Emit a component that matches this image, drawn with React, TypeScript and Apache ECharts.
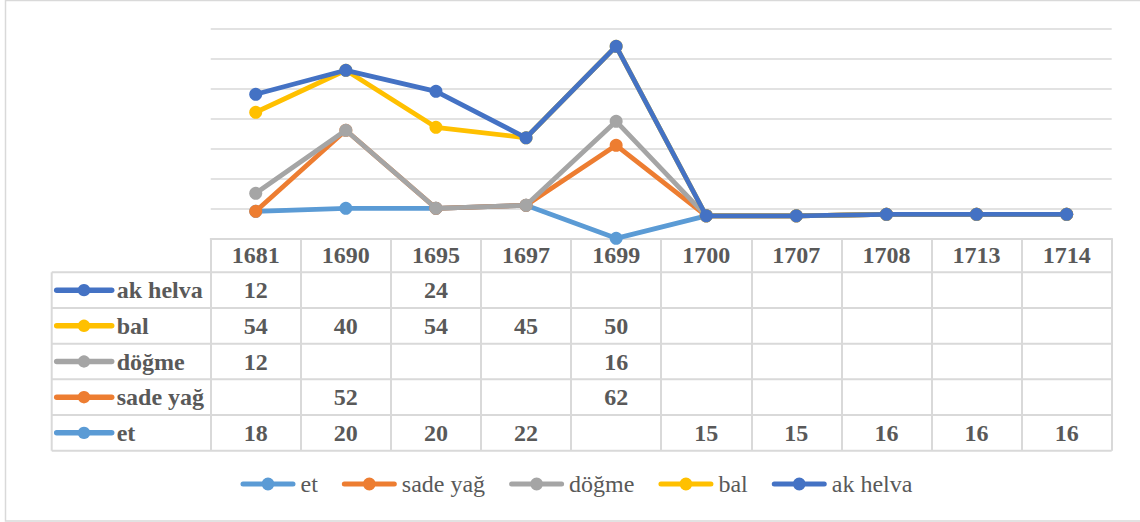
import React, { useEffect, useRef } from 'react';
import * as echarts from 'echarts';

const years = ['1681', '1690', '1695', '1697', '1699', '1700', '1707', '1708', '1713', '1714'];
const et = [18, 20, 20, 22, null, 15, 15, 16, 16, 16];
const sadeYag = [null, 52, null, null, 62, null, null, null, null, null];
const dogme = [12, null, null, null, 16, null, null, null, null, null];
const bal = [54, 40, 54, 45, 50, null, null, null, null, null];
const akHelva = [12, null, 24, null, null, null, null, null, null, null];

const seriesNames = ['et', 'sade yağ', 'döğme', 'bal', 'ak helva'];
const seriesValues = [et, sadeYag, dogme, bal, akHelva];
const colors = ['#5B9BD5', '#ED7D31', '#A5A5A5', '#FFC000', '#4472C4'];

const FONT = "'Liberation Serif', 'Times New Roman', serif";
const TEXT = '#595959';
const LINE = '#d9d9d9';

// legend key: thick bar with a circle in the middle (55 x 13 box)
const KEY_ICON =
  'path://M2.5,4 L52.5,4 A2.5,2.5 0 0 1 52.5,9 L2.5,9 A2.5,2.5 0 0 1 2.5,4 Z ' +
  'M21,6.5 A6.5,6.5 0 0 1 34,6.5 A6.5,6.5 0 0 1 21,6.5 Z';

const GRID_LEFT = 210.7;
const GRID_RIGHT_X = 1111.7;
const GRID_TOP = 28.3;
const AXIS_Y = 238.3;
const TABLE_LEFT = 51.7;
const ROW_H = 35.68;
const HEADER_BOTTOM = 272.3;
const TABLE_BOTTOM = HEADER_BOTTOM + ROW_H * 5;

export default function App() {
  const ref = useRef<HTMLDivElement>(null);

  useEffect(() => {
    if (!ref.current) return;
    const chart = echarts.init(ref.current, null, { renderer: 'svg' });
    chart.setOption({
      animation: false,
      backgroundColor: '#ffffff',
      textStyle: { fontFamily: FONT },
      grid: {
        left: GRID_LEFT,
        right: 1140 - GRID_RIGHT_X,
        top: GRID_TOP,
        height: AXIS_Y - GRID_TOP,
      },
      legend: {
        left: 235.5,
        top: 467,
        icon: KEY_ICON,
        itemWidth: 55,
        itemHeight: 13,
        itemGap: 24,
        data: seriesNames,
        textStyle: { fontFamily: FONT, fontSize: 24, color: TEXT },
        selectedMode: false,
      },
      xAxis: {
        type: 'category',
        data: years,
        boundaryGap: true,
        axisLine: { show: true, lineStyle: { color: LINE, width: 2 } },
        axisTick: {
          show: true,
          interval: 0,
          length: TABLE_BOTTOM - AXIS_Y,
          lineStyle: { color: LINE, width: 2 },
        },
        axisLabel: {
          interval: 0,
          margin: 17,
          verticalAlign: 'middle',
          fontFamily: FONT,
          fontSize: 24,
          fontWeight: 'bold',
          color: TEXT,
        },
      },
      yAxis: {
        type: 'value',
        min: 0,
        max: 140,
        interval: 20,
        axisLine: { show: false },
        axisTick: { show: false },
        axisLabel: { show: false },
        splitLine: { show: true, lineStyle: { color: LINE, width: 1.5 } },
      },
      series: seriesNames.map((name, i) => ({
        type: 'line',
        name,
        stack: 'total',
        data: seriesValues[i].map((v) => (v == null ? 0 : v)),
        symbol: 'circle',
        symbolSize: 13,
        z: 2 + i,
        lineStyle: { color: colors[i], width: 4.8 },
        itemStyle: { color: colors[i] },
        emphasis: { disabled: true },
        silent: true,
      })),
    });

    const xs = years.map((_, i) => chart.convertToPixel({ xAxisIndex: 0 }, i) as number);
    const elements: any[] = [];
    elements.push({
      type: 'rect',
      shape: { x: 5.5, y: 0.5, width: 1140, height: 520.5 },
      style: { fill: 'none', stroke: LINE, lineWidth: 1.5 },
      silent: true,
    });
    for (let r = 0; r <= 5; r++) {
      const y = HEADER_BOTTOM + r * ROW_H;
      elements.push({
        type: 'line',
        shape: { x1: TABLE_LEFT, y1: y, x2: GRID_RIGHT_X, y2: y },
        style: { stroke: LINE, lineWidth: 2 },
        silent: true,
      });
    }
    elements.push({
      type: 'line',
      shape: { x1: TABLE_LEFT, y1: HEADER_BOTTOM, x2: TABLE_LEFT, y2: TABLE_BOTTOM },
      style: { stroke: LINE, lineWidth: 2 },
      silent: true,
    });
    const rowOrder = [4, 3, 2, 1, 0];
    rowOrder.forEach((si, r) => {
      const cy = HEADER_BOTTOM + r * ROW_H + ROW_H / 2;
      elements.push({
        type: 'line',
        shape: { x1: 56.7, y1: cy, x2: 111.7, y2: cy },
        style: { stroke: colors[si], lineWidth: 5.5, lineCap: 'round' },
        silent: true,
      });
      elements.push({
        type: 'circle',
        shape: { cx: 84, cy, r: 6.2 },
        style: { fill: colors[si] },
        silent: true,
      });
      elements.push({
        type: 'text',
        x: 116.7,
        y: cy,
        style: {
          text: seriesNames[si],
          fontFamily: FONT,
          fontSize: 24,
          fontWeight: 'bold',
          fill: TEXT,
          align: 'left',
          verticalAlign: 'middle',
        },
        silent: true,
      });
      seriesValues[si].forEach((v, i) => {
        if (v == null) return;
        elements.push({
          type: 'text',
          x: xs[i],
          y: cy,
          style: {
            text: String(v),
            fontFamily: FONT,
            fontSize: 24,
            fontWeight: 'bold',
            fill: TEXT,
            align: 'center',
            verticalAlign: 'middle',
          },
          silent: true,
        });
      });
    });
    chart.setOption({ graphic: { elements } });

    return () => chart.dispose();
  }, []);

  return (
    <div
      ref={ref}
      style={{ position: 'absolute', left: 0, top: 0, width: 1140, height: 522 }}
    />
  );
}
